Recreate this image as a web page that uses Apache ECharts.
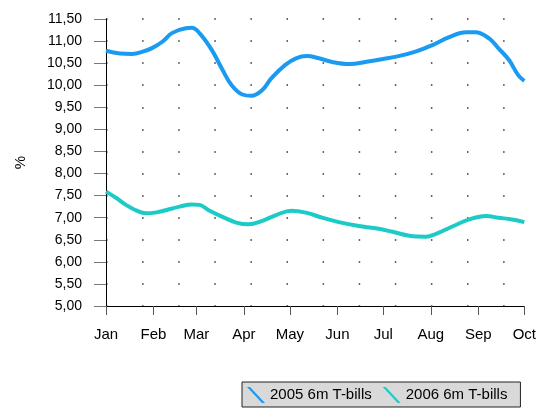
<!DOCTYPE html>
<html>
<head>
<meta charset="utf-8">
<script src="https://cdn.jsdelivr.net/npm/echarts@6/dist/echarts.min.js"></script>
<style>html,body{margin:0;padding:0;background:#fff}#c{width:539px;height:410px}</style>
</head>
<body>
<div id="c"></div>
<script>
var baseYear = 2005;
var monthLabels = ['Jan','Feb','Mar','Apr','May','Jun','Jul','Aug','Sep','Oct','Nov','Dec'];
var yTickLabels = ['5,00','5,50','6,00','6,50','7,00','7,50','8,00','8,50','9,00','9,50','10,00','10,50','11,00','11,50'];

var seriesNames = ['2005 6m T-bills', '2006 6m T-bills'];

var dates2005 = ['01-01','01-10','01-18','01-25','01-31','02-07','02-13','02-22','02-26','03-03','03-11','03-18','03-24','03-31','04-06','04-13','04-19','04-28','05-05','05-12','05-20','05-28','06-09','06-20','06-30','07-11','07-22','08-02','08-13','08-24','08-30','09-08','09-14','09-21','09-27','10-01'];
var values2005 = [10.78,10.72,10.71,10.76,10.84,10.99,11.18,11.29,11.30,11.18,10.80,10.35,10.00,9.79,9.76,9.89,10.16,10.46,10.61,10.66,10.61,10.53,10.48,10.53,10.59,10.66,10.76,10.91,11.09,11.20,11.20,11.06,10.84,10.57,10.23,10.10];

var dates2006 = ['01-01','01-08','01-14','01-21','01-27','02-03','02-09','02-18','02-26','03-03','03-09','03-18','03-27','04-04','04-13','04-22','05-02','05-12','05-22','06-02','06-15','06-26','07-07','07-18','07-29','08-04','08-15','08-26','09-06','09-14','09-23','10-01'];
var values2006 = [7.59,7.44,7.29,7.16,7.10,7.12,7.17,7.25,7.30,7.29,7.17,7.02,6.89,6.85,6.93,7.06,7.16,7.11,7.00,6.90,6.81,6.76,6.68,6.59,6.57,6.63,6.80,6.96,7.04,7.00,6.96,6.90];

function toPairs(dates, vals) {
  return dates.map(function (d, i) { return [baseYear + '-' + d, vals[i]]; });
}

var chart = echarts.init(document.getElementById('c'), null, {renderer: 'canvas'});
var iconPath = 'path://M0,0 L3,0 L18,16 L15,16 Z';
var option = {
  animation: false,
  textStyle: {fontFamily: 'Liberation Sans, Arial, sans-serif'},
  grid: {left: 106, right: 14, top: 19, bottom: 104, containLabel: false},
  legend: {
    left: 242, top: 382,
    padding: [5, 13, 4, 5],
    itemWidth: 18, itemHeight: 16, itemGap: 11,
    backgroundColor: '#d9d9d9',
    borderColor: '#222', borderWidth: 1,
    textStyle: {fontSize: 15, color: '#000'},
    data: [
      {name: seriesNames[0], icon: iconPath, itemStyle: {color: '#1a9af0'}},
      {name: seriesNames[1], icon: iconPath, itemStyle: {color: '#1ccbc8'}}
    ]
  },
  xAxis: {
    type: 'time',
    min: baseYear + '-01-01',
    max: baseYear + '-10-01',
    minInterval: 28 * 86400000,
    maxInterval: 31 * 86400000,
    axisLine: {lineStyle: {color: '#000', width: 1}},
    axisTick: {show: true, length: 9, lineStyle: {color: '#555'}},
    minorTick: {show: false},
    splitLine: {show: false},
    axisLabel: {
      margin: 21, fontSize: 15, color: '#000',
      hideOverlap: false, showMinLabel: true, showMaxLabel: true,
      formatter: function (v) { return monthLabels[new Date(v).getMonth()]; }
    }
  },
  yAxis: {
    type: 'value',
    min: 5, max: 11.5, interval: 0.5,
    name: '%', nameLocation: 'middle', nameGap: 78, nameRotate: 90,
    nameTextStyle: {fontSize: 15, color: '#000'},
    axisLine: {show: true, lineStyle: {color: '#000', width: 1}},
    axisTick: {show: true, length: 12, lineStyle: {color: '#777'}},
    axisLabel: {
      margin: 24, fontSize: 14, color: '#000',
      formatter: function (v) { return yTickLabels[Math.round((v - 5) / 0.5)]; }
    },
    splitLine: {
      show: true,
      lineStyle: {color: '#333', width: 1.5, type: [1.5, 34.6], dashOffset: 0}
    }
  },
  series: [
    {
      name: seriesNames[0], type: 'line', smooth: 0.4, showSymbol: false,
      data: toPairs(dates2005, values2005),
      lineStyle: {color: '#1a9af0', width: 4},
      itemStyle: {color: '#1a9af0'}
    },
    {
      name: seriesNames[1], type: 'line', smooth: 0.4, showSymbol: false,
      data: toPairs(dates2006, values2006),
      lineStyle: {color: '#1ccbc8', width: 4},
      itemStyle: {color: '#1ccbc8'}
    }
  ]
};
chart.setOption(option);
</script>
</body>
</html>
